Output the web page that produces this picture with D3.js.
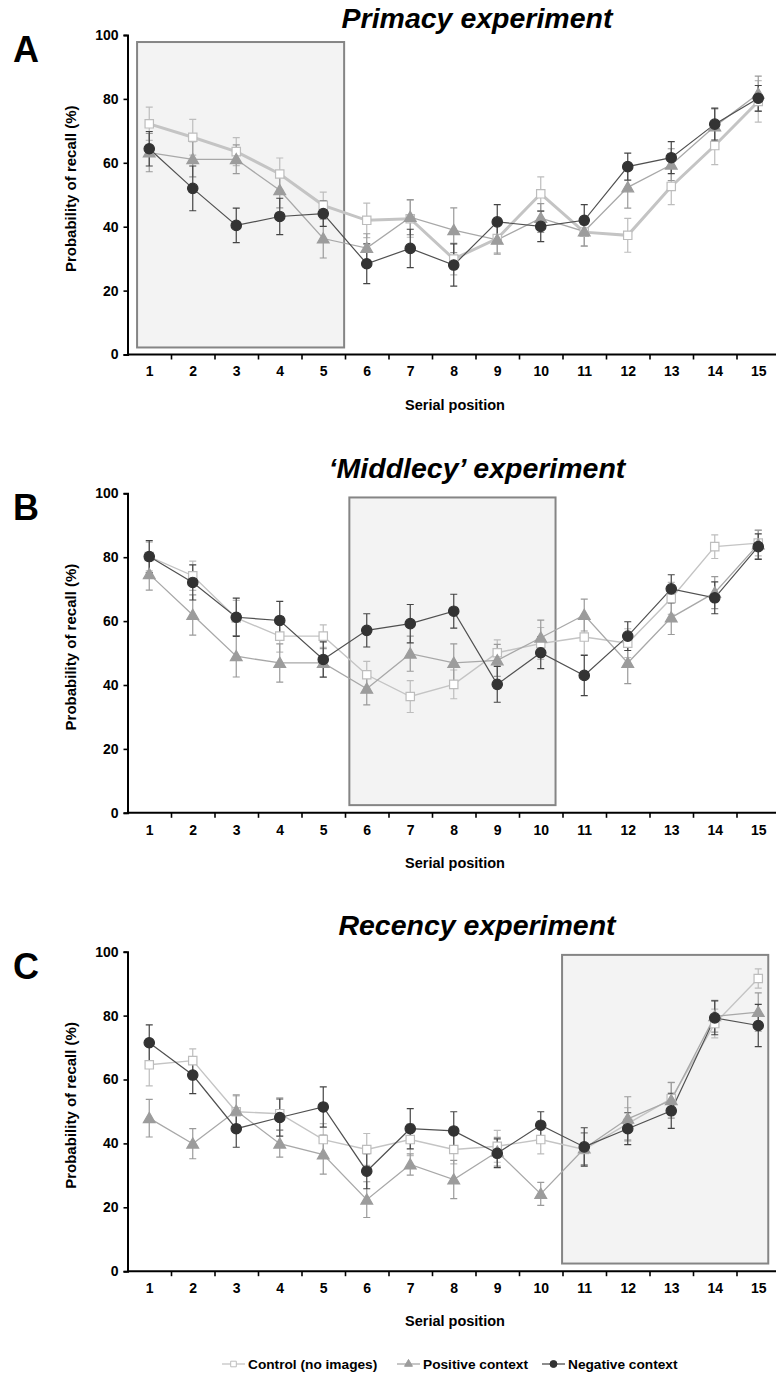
<!DOCTYPE html>
<html><head><meta charset="utf-8">
<script src="https://cdn.jsdelivr.net/npm/d3@7"></script>
<style>
body{margin:0;background:#fff;}
svg text{font-family:"Liberation Sans",Arial,sans-serif;}
</style></head>
<body><svg id="c" width="776" height="1376"></svg>
<script>
const positions = [1,2,3,4,5,6,7,8,9,10,11,12,13,14,15];
const yTicks = [0,20,40,60,80,100];
const panelLetters = ["A","B","C"];
const panelTitles = ["Primacy experiment","\u2018Middlecy\u2019 experiment","Recency experiment"];
const seriesNames = ["Control (no images)","Positive context","Negative context"];

// Panel A (Primacy)
const controlA  = [72.2,68.0,63.5,56.5,46.7,42.0,42.5,29.9,36.3,50.3,38.3,37.3,52.6,65.4,79.2];
const positiveA = [63.2,61.1,61.1,51.4,36.3,33.3,43.0,38.9,35.9,42.7,38.5,52.3,59.4,71.4,81.6];
const negativeA = [64.4,52.0,40.4,43.2,44.1,28.4,33.2,28.0,41.5,40.1,42.0,58.8,61.6,72.1,80.2];
const controlAErr  = [5.2,5.6,4.4,5.0,4.1,5.4,5.8,5.0,4.5,5.3,4.5,5.3,5.7,6.0,6.5];
const positiveAErr = [6.0,5.5,4.5,5.5,6.1,4.5,5.5,7.0,4.5,4.5,4.5,6.5,5.0,5.5,5.5];
const negativeAErr = [5.4,7.0,5.4,5.7,4.0,6.2,6.0,6.6,5.4,4.8,4.9,4.2,5.0,5.0,4.0];

// Panel B (Middlecy)
const controlB  = [80.2,74.2,61.0,55.3,55.3,43.2,36.4,40.2,50.1,53.0,55.0,53.1,67.1,83.3,84.4];
const positiveB = [74.7,61.9,49.0,46.9,46.9,38.8,49.8,46.9,47.7,54.8,61.9,46.9,61.1,68.9,84.0];
const negativeB = [80.2,72.1,61.2,60.2,48.0,57.1,59.2,63.1,40.2,50.1,43.0,55.3,70.1,67.3,83.3];
const controlBErr  = [4.5,4.6,5.5,5.0,3.5,4.2,5.0,4.5,4.0,5.0,5.5,4.5,5.0,3.7,4.0];
const positiveBErr = [5.0,6.3,6.5,6.0,4.5,5.0,5.5,6.0,5.0,5.5,5.0,6.5,5.3,5.0,4.5];
const negativeBErr = [5.0,5.5,6.0,6.0,5.5,5.2,6.0,5.3,5.6,5.0,6.3,4.5,4.4,5.0,4.0];

// Panel C (Recency)
const controlC  = [64.6,65.9,49.9,49.3,41.2,38.1,41.2,38.1,39.1,41.2,38.1,46.2,54.0,77.5,91.6];
const positiveC = [47.9,39.9,50.2,39.9,36.5,22.4,33.4,28.7,37.4,24.2,38.4,47.7,53.5,79.8,81.1];
const negativeC = [71.5,61.4,44.6,48.1,51.4,31.3,44.6,43.9,36.9,45.7,38.9,44.6,50.2,79.3,76.9];
const controlCErr  = [6.6,3.7,5.0,5.0,5.0,5.0,5.0,4.5,5.0,4.5,5.0,5.0,5.0,4.5,3.0];
const positiveCErr = [5.9,4.7,5.0,4.2,6.1,5.6,3.3,6.0,4.5,3.6,5.0,6.9,5.6,5.0,6.0];
const negativeCErr = [5.6,5.8,5.8,5.8,6.3,5.5,6.3,6.0,4.5,4.2,6.0,5.0,5.5,5.3,6.6];

// Highlighted (emotional-context) windows, in serial-position / percent units
const boxX0 = [0.72, 5.6, 10.49];
const boxX1 = [5.48, 10.34, 15.23];
const boxY0 = [2.2, 2.4, 2.4];
const boxY1 = [97.8, 98.7, 99.0];

const panels = [
  {series:[controlA,positiveA,negativeA], errs:[controlAErr,positiveAErr,negativeAErr]},
  {series:[controlB,positiveB,negativeB], errs:[controlBErr,positiveBErr,negativeBErr]},
  {series:[controlC,positiveC,negativeC], errs:[controlCErr,positiveCErr,negativeCErr]}
];

const svg = d3.select("#c");
const plotTop = [35, 493.3, 951.7];
const plotH = 319.5;
const titleY = [28, 478, 935];
const x = d3.scaleLinear().domain([0.5, 15.5]).range([127.5, 780]);

const lineColor = ["#c4c4c4", "#a8a8a8", "#505050"];
const lineWidth = [[3,1.3,1.2],[1.4,1.3,1.2],[1.4,1.3,1.2]];
const errColor = ["#bdbdbd", "#9a9a9a", "#444"];
const markFill = ["#fff", "#9c9c9c", "#333"];
const markStroke = ["#bdbdbd", "#9c9c9c", "#333"];

const sym = [d3.symbolSquare, d3.symbolTriangle, d3.symbolCircle];
const symSize = [70, 60, 85];
const FONT = "Liberation Sans, Arial, sans-serif";

panels.forEach((p, pi) => {
  const g = svg.append("g");
  const y = d3.scaleLinear().domain([0,100]).range([plotTop[pi]+plotH, plotTop[pi]]);

  // highlight box
  g.append("rect")
    .attr("x", x(boxX0[pi])).attr("y", y(boxY1[pi]))
    .attr("width", x(boxX1[pi]) - x(boxX0[pi]))
    .attr("height", y(boxY0[pi]) - y(boxY1[pi]))
    .attr("fill", "#f3f3f3").attr("stroke", "#858585").attr("stroke-width", 2);

  // axes
  const ya = g.append("g").attr("transform", `translate(${x(0.5)},0)`)
    .call(d3.axisLeft(y).tickValues(yTicks).tickSize(4).tickPadding(5));
  ya.select(".domain").attr("stroke","#000").attr("stroke-width",2);
  ya.selectAll(".tick line").attr("stroke","#000").attr("stroke-width",1.6);
  ya.selectAll(".tick text").attr("font-size",14).attr("font-weight","bold").attr("fill","#000")
    .attr("font-family",FONT);

  const xa = g.append("g").attr("transform", `translate(0,${y(0)})`)
    .call(d3.axisBottom(x).tickValues(d3.range(1.5, 15, 1)).tickSize(5).tickFormat(""));
  xa.select(".domain").attr("stroke","#000").attr("stroke-width",2).attr("d", `M${x(0.5)},0H${x(15.5)}`);
  xa.selectAll(".tick line").attr("stroke","#000").attr("stroke-width",1.6);

  const xl = g.append("g").attr("transform", `translate(0,${y(0)})`)
    .call(d3.axisBottom(x).tickValues(positions).tickSize(0).tickPadding(12).tickFormat(d3.format("d")));
  xl.select(".domain").remove();
  xl.selectAll(".tick text").attr("font-size",14).attr("font-weight","bold").attr("fill","#000")
    .attr("font-family",FONT);

  // axis titles
  g.append("text").attr("x", 455).attr("y", y(0)+55).attr("text-anchor","middle")
    .attr("font-size",14.5).attr("font-weight","bold").text("Serial position");
  g.append("text").attr("transform", `translate(76,${y(50)-6}) rotate(-90)`)
    .attr("text-anchor","middle").attr("font-size",15).attr("font-weight","bold")
    .text("Probability of recall (%)");

  // panel letter & title
  g.append("text").attr("x", 13).attr("y", plotTop[pi]+27).attr("font-size",36).attr("font-weight","bold").text(panelLetters[pi]);
  g.append("text").attr("x", 477).attr("y", titleY[pi]).attr("text-anchor","middle")
    .attr("font-size",28.5).attr("font-weight","bold").attr("font-style","italic").text(panelTitles[pi]);

  // series
  const line = d3.line().x((d,i)=>x(positions[i])).y(d=>y(d));
  p.series.forEach((s, si) => {
    const sg = g.append("g");
    s.forEach((v, i) => {
      const e = p.errs[si][i], cx = x(positions[i]);
      sg.append("path")
        .attr("d", `M${cx},${y(v-e)}V${y(v+e)}M${cx-3.5},${y(v-e)}H${cx+3.5}M${cx-3.5},${y(v+e)}H${cx+3.5}`)
        .attr("stroke", errColor[si]).attr("stroke-width", 1.2).attr("fill","none");
    });
  });
  p.series.forEach((s, si) => {
    g.append("path").attr("d", line(s)).attr("fill","none")
      .attr("stroke", lineColor[si]).attr("stroke-width", lineWidth[pi][si]);
  });
  p.series.forEach((s, si) => {
    g.append("g").selectAll("path").data(s).join("path")
      .attr("transform", (d,i)=>`translate(${x(positions[i])},${y(d) + (si===1?1:0)})`)
      .attr("d", d3.symbol().type(sym[si]).size(symSize[si]))
      .attr("fill", markFill[si]).attr("stroke", markStroke[si]).attr("stroke-width", 1.2);
  });
});

// legend
const lg = svg.append("g").attr("transform","translate(0,1364)");
const legX = [222, 397, 542];
seriesNames.forEach((n, si) => {
  lg.append("line").attr("x1", legX[si]).attr("x2", legX[si]+23).attr("y1",0).attr("y2",0)
    .attr("stroke", lineColor[si]).attr("stroke-width", 1.3);
  lg.append("path").attr("transform", `translate(${legX[si]+11.5},0)`)
    .attr("d", d3.symbol().type(sym[si]).size(symSize[si]*0.45))
    .attr("fill", markFill[si]).attr("stroke", markStroke[si]).attr("stroke-width", 1);
  lg.append("text").attr("x", legX[si]+26).attr("y", 5).attr("font-size",13.7).attr("font-weight","bold").text(n);
});
</script></body></html>
